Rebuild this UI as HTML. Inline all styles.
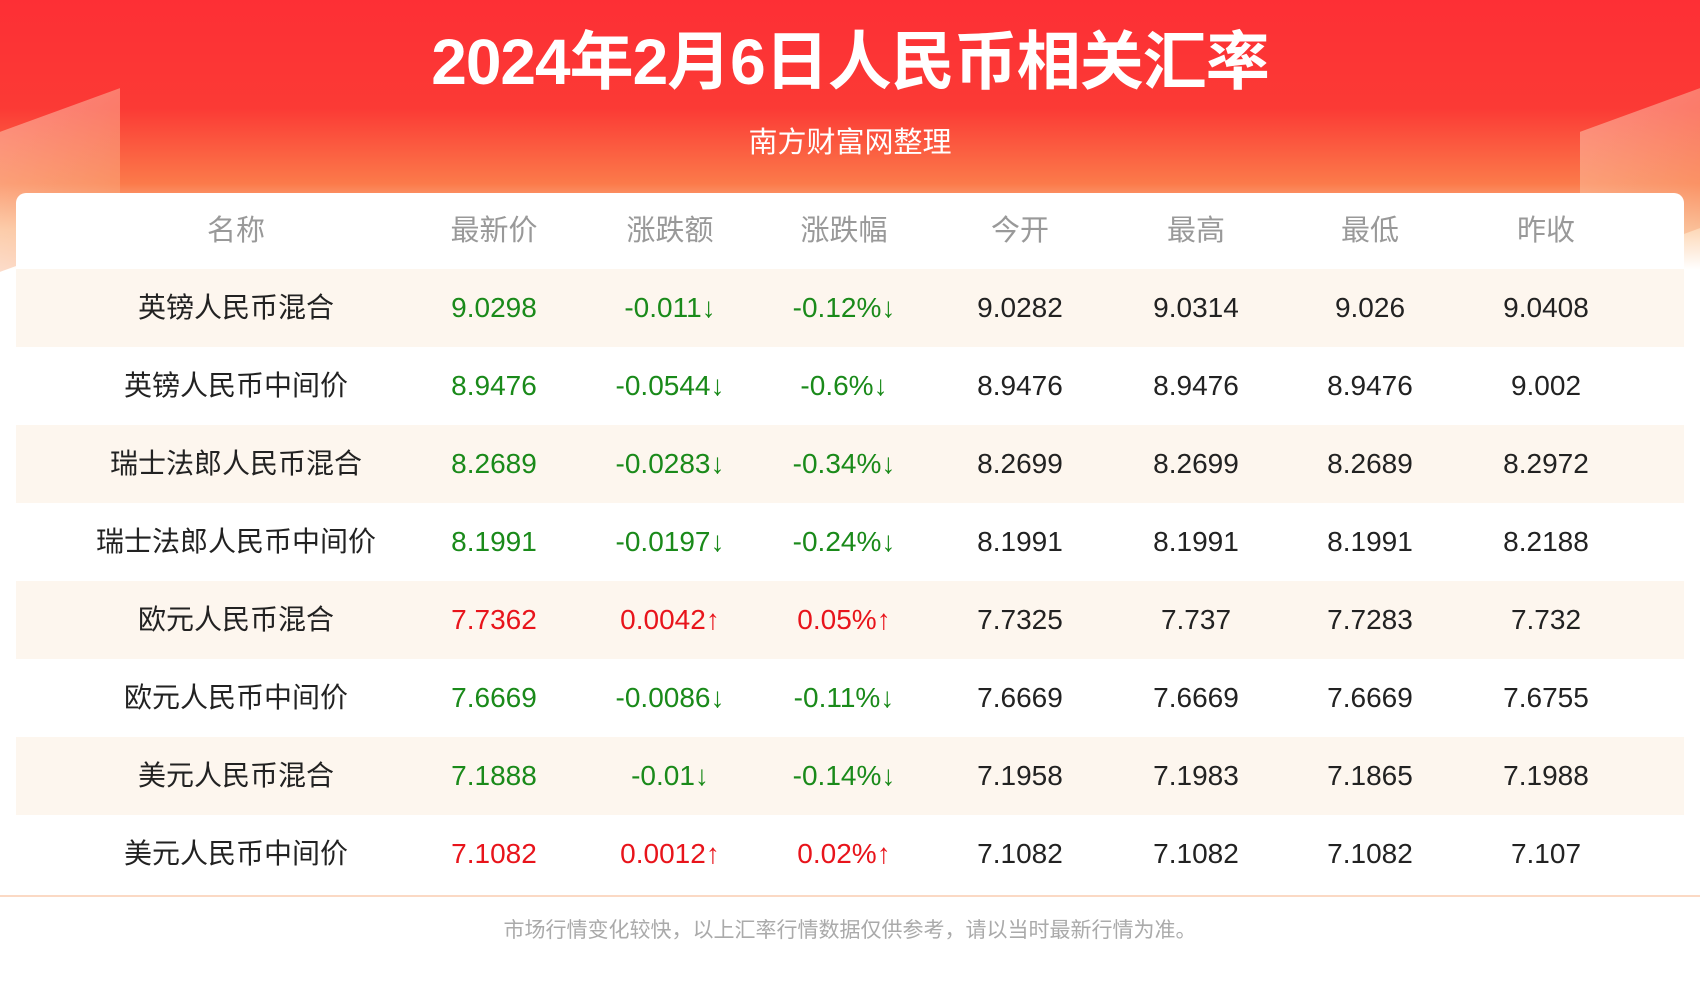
<!DOCTYPE html>
<html><head><meta charset="utf-8"><style>
body{margin:0;width:1700px;height:1000px;overflow:hidden;background:#fff;font-family:"Liberation Sans","Noto Sans CJK SC",sans-serif;position:relative}
.bg{position:absolute;left:0;top:0;width:1700px;height:270px;background:linear-gradient(180deg,#fd2f35 0%,#fb3a35 40%,#fb7a4a 68%,#fdd8b8 85%,#fff 100%)}
.side{position:absolute;top:110px;width:120px;height:140px;background:linear-gradient(160deg,#fde0c8,#f7a070);opacity:.45;transform:skewY(-20deg)}
.title{position:absolute;top:11px;width:100%;text-align:center;color:#fff;font-size:64px;font-weight:bold;letter-spacing:-1px}
.sub{position:absolute;top:119px;width:100%;text-align:center;color:#fff;font-size:29px}
.card{position:absolute;left:16px;top:193px;width:1668px;height:702px;background:#fff;border-radius:10px 10px 0 0}
.row{position:absolute;left:16px;width:1668px;height:78px}
.row.alt{background:#fdf6ee}
.c{position:absolute;width:360px;margin-left:-180px;text-align:center;font-size:28px;line-height:78px;color:#222;white-space:nowrap}
.h .c{color:#999;line-height:76px;font-size:29px}
.g{color:#1a8a1a!important}.r{color:#e8141b!important}
.line{position:absolute;left:0;top:895px;width:1700px;height:2px;background:#fbd9c4}
.foot{position:absolute;top:914px;width:100%;text-align:center;color:#aaa;font-size:21px}
</style></head><body>
<div class="bg"></div>
<div class="side" style="left:0"></div><div class="side" style="right:0"></div>
<div class="title">2024年2月6日人民币相关汇率</div>
<div class="sub">南方财富网整理</div>
<div class="card"></div>
<div class="row h" style="top:193px">
<div class="c" style="left:220px">名称</div><div class="c" style="left:478px">最新价</div><div class="c" style="left:654px">涨跌额</div><div class="c" style="left:828px">涨跌幅</div><div class="c" style="left:1004px">今开</div><div class="c" style="left:1180px">最高</div><div class="c" style="left:1354px">最低</div><div class="c" style="left:1530px">昨收</div>
</div>
<div class="row alt" style="top:269px"><div class="c" style="left:220px">英镑人民币混合</div><div class="c g" style="left:478px">9.0298</div><div class="c g" style="left:654px">-0.011↓</div><div class="c g" style="left:828px">-0.12%↓</div><div class="c" style="left:1004px">9.0282</div><div class="c" style="left:1180px">9.0314</div><div class="c" style="left:1354px">9.026</div><div class="c" style="left:1530px">9.0408</div></div>
<div class="row" style="top:347px"><div class="c" style="left:220px">英镑人民币中间价</div><div class="c g" style="left:478px">8.9476</div><div class="c g" style="left:654px">-0.0544↓</div><div class="c g" style="left:828px">-0.6%↓</div><div class="c" style="left:1004px">8.9476</div><div class="c" style="left:1180px">8.9476</div><div class="c" style="left:1354px">8.9476</div><div class="c" style="left:1530px">9.002</div></div>
<div class="row alt" style="top:425px"><div class="c" style="left:220px">瑞士法郎人民币混合</div><div class="c g" style="left:478px">8.2689</div><div class="c g" style="left:654px">-0.0283↓</div><div class="c g" style="left:828px">-0.34%↓</div><div class="c" style="left:1004px">8.2699</div><div class="c" style="left:1180px">8.2699</div><div class="c" style="left:1354px">8.2689</div><div class="c" style="left:1530px">8.2972</div></div>
<div class="row" style="top:503px"><div class="c" style="left:220px">瑞士法郎人民币中间价</div><div class="c g" style="left:478px">8.1991</div><div class="c g" style="left:654px">-0.0197↓</div><div class="c g" style="left:828px">-0.24%↓</div><div class="c" style="left:1004px">8.1991</div><div class="c" style="left:1180px">8.1991</div><div class="c" style="left:1354px">8.1991</div><div class="c" style="left:1530px">8.2188</div></div>
<div class="row alt" style="top:581px"><div class="c" style="left:220px">欧元人民币混合</div><div class="c r" style="left:478px">7.7362</div><div class="c r" style="left:654px">0.0042↑</div><div class="c r" style="left:828px">0.05%↑</div><div class="c" style="left:1004px">7.7325</div><div class="c" style="left:1180px">7.737</div><div class="c" style="left:1354px">7.7283</div><div class="c" style="left:1530px">7.732</div></div>
<div class="row" style="top:659px"><div class="c" style="left:220px">欧元人民币中间价</div><div class="c g" style="left:478px">7.6669</div><div class="c g" style="left:654px">-0.0086↓</div><div class="c g" style="left:828px">-0.11%↓</div><div class="c" style="left:1004px">7.6669</div><div class="c" style="left:1180px">7.6669</div><div class="c" style="left:1354px">7.6669</div><div class="c" style="left:1530px">7.6755</div></div>
<div class="row alt" style="top:737px"><div class="c" style="left:220px">美元人民币混合</div><div class="c g" style="left:478px">7.1888</div><div class="c g" style="left:654px">-0.01↓</div><div class="c g" style="left:828px">-0.14%↓</div><div class="c" style="left:1004px">7.1958</div><div class="c" style="left:1180px">7.1983</div><div class="c" style="left:1354px">7.1865</div><div class="c" style="left:1530px">7.1988</div></div>
<div class="row" style="top:815px"><div class="c" style="left:220px">美元人民币中间价</div><div class="c r" style="left:478px">7.1082</div><div class="c r" style="left:654px">0.0012↑</div><div class="c r" style="left:828px">0.02%↑</div><div class="c" style="left:1004px">7.1082</div><div class="c" style="left:1180px">7.1082</div><div class="c" style="left:1354px">7.1082</div><div class="c" style="left:1530px">7.107</div></div>
<div class="line"></div>
<div class="foot">市场行情变化较快，以上汇率行情数据仅供参考，请以当时最新行情为准。</div>
</body></html>
